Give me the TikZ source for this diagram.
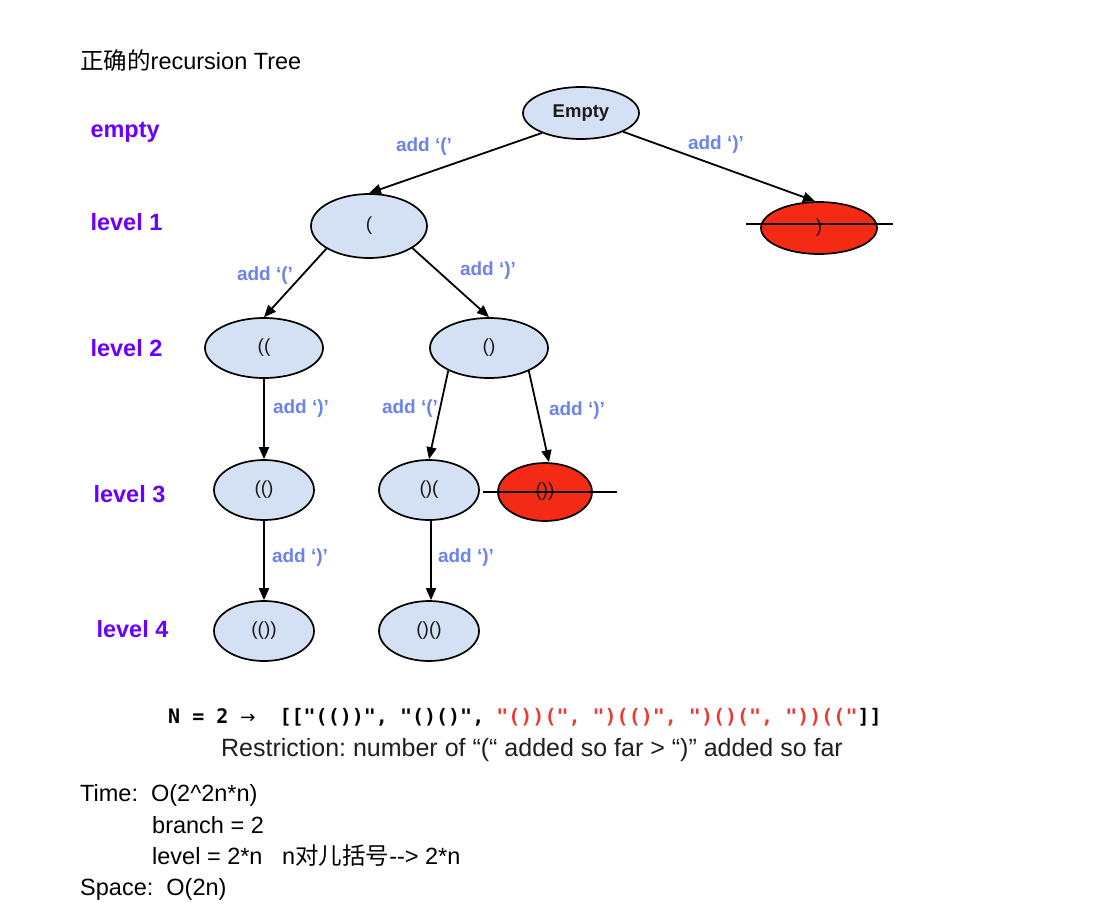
\documentclass[tikz,border=0pt]{standalone}
\usepackage{fontspec}
\setmainfont{Liberation Sans}
\newfontfamily\cjk{Noto Sans CJK SC}
\newfontfamily\codefont{DejaVu Sans Mono}
\newfontfamily\arrowfont{DejaVu Sans}
\usetikzlibrary{shapes.geometric,arrows.meta}
\frenchspacing

\definecolor{nodeblue}{HTML}{D4E0F4}
\definecolor{nodered}{HTML}{F52A14}
\definecolor{lblblue}{HTML}{6C84E8}
\definecolor{lvlpurple}{HTML}{6A00FF}
\definecolor{codered}{HTML}{EC3A32}
\definecolor{nodetext}{HTML}{1A1A1A}

\tikzset{
  state/.style={ellipse, draw=black, line width=1.7pt, fill=nodeblue,
    minimum width=116pt, minimum height=60pt, inner sep=0pt,
    font=\fontsize{19}{22}\selectfont, text=nodetext},
  small/.style={minimum width=100pt, minimum height=60pt},
  dead/.style={fill=nodered},
  edge/.style={line width=1.8pt, -{Triangle[length=12pt,width=10pt]}},
  strike/.style={line width=1.5pt},
  lbl/.style={font=\bfseries\fontsize{19}{22}\selectfont, text=lblblue},
  lvl/.style={anchor=base west, font=\bfseries\fontsize{23.5}{26}\selectfont, text=lvlpurple},
  body/.style={anchor=base west, font=\fontsize{23.5}{28}\selectfont, inner sep=0pt}
}

\begin{document}
\begin{tikzpicture}[x=1pt,y=-1pt]
\useasboundingbox[fill=white] (0,0) rectangle (1112,919);

% heading
\node[body] (title) at (80,69) {{\cjk 正确的}recursion Tree};

% level captions
\node[lvl] (l0) at (87,137) {empty};
\node[lvl] (l1) at (87,230) {level 1};
\node[lvl] (l2) at (87,356) {level 2};
\node[lvl] (l3) at (90,502) {level 3};
\node[lvl] (l4) at (93,637) {level 4};

% recursion tree
\node[state, minimum height=52pt, font=\bfseries\fontsize{18.5}{22}\selectfont] (e) at (581,113) {Empty};
\node[state, dead, minimum height=52pt] (c) at (819,228) {)};
\node[state, minimum height=64pt] (o) at (369,226) {(};
\node[state, minimum width=118pt] (oo) at (264,348) {((};
\node[state, minimum width=118pt] (oc) at (489,348) {()};
\node[state, small] (ooc) at (264,490) {(()};
\node[state, small] (oco) at (429,490) {()(};
\node[state, dead, minimum width=94pt, minimum height=58pt] (occ) at (545,492) {())};
\node[state, small] (oocc) at (264,631) {(())};
\node[state, small] (ococ) at (429,631) {()()};

% pruned branches are struck through
\draw[strike] ([shift={(-14,-4)}]c.west) -- ([shift={(15,-4)}]c.east);
\draw[strike] ([shift={(-14,0)}]occ.west) -- ([shift={(24,0)}]occ.east);

% connectors
\draw[edge] (e.207) -- (o.north);
\draw[edge] (e.336) -- ([xshift=-4pt]c.north);
\draw[edge] (o.208) -- (oo.north);
\draw[edge] (o.333) -- (oc.north);
\draw[edge] (oo.south) -- (ooc.north);
\draw[edge] (oc.209) -- (oco.north);
\draw[edge] (oc.330) -- ([xshift=4pt]occ.north);
\draw[edge] (ooc.south) -- (oocc.north);
\draw[edge] ([xshift=2pt]oco.south) -- ([xshift=2pt]ococ.north);

% connector captions
\node[lbl] (a1) at (424,147) {add ‘(’};
\node[lbl] (a2) at (716,145) {add ‘)’};
\node[lbl] (a3) at (265,276) {add ‘(’};
\node[lbl] (a4) at (488,271) {add ‘)’};
\node[lbl] (a5) at (301,409) {add ‘)’};
\node[lbl] (a6) at (410,409) {add ‘(’};
\node[lbl] (a7) at (577,411) {add ‘)’};
\node[lbl] (a8) at (300,558) {add ‘)’};
\node[lbl] (a9) at (466,558) {add ‘)’};

% enumeration of all strings for N = 2
\node[anchor=base west, inner sep=0pt, font=\codefont\bfseries\fontsize{20}{24}\selectfont] (code) at (168,723)
  {N = 2 {\arrowfont\mdseries\fontsize{18}{24}\selectfont →}\ \ [["(())", "()()", \textcolor{codered}{"())(", ")(()", ")()(", "))(("}]]};
\node[anchor=base, inner sep=0pt, font=\fontsize{25}{28}\selectfont, text=black!88] (rule) at (532,756)
  {Restriction: number of “(“ added so far > “)” added so far};

% complexity notes
\node[body] (t1) at (80,801) {Time:\ \ O(2\^{}2n*n)};
\node[body] (t2) at (152,833) {branch = 2};
\node[body] (t3) at (152,864) {level = 2*n\ \ \ n{\cjk 对儿括号}-{}-> 2*n};
\node[body] (t4) at (80,895) {Space:\ \ O(2n)};
\end{tikzpicture}
\end{document}
